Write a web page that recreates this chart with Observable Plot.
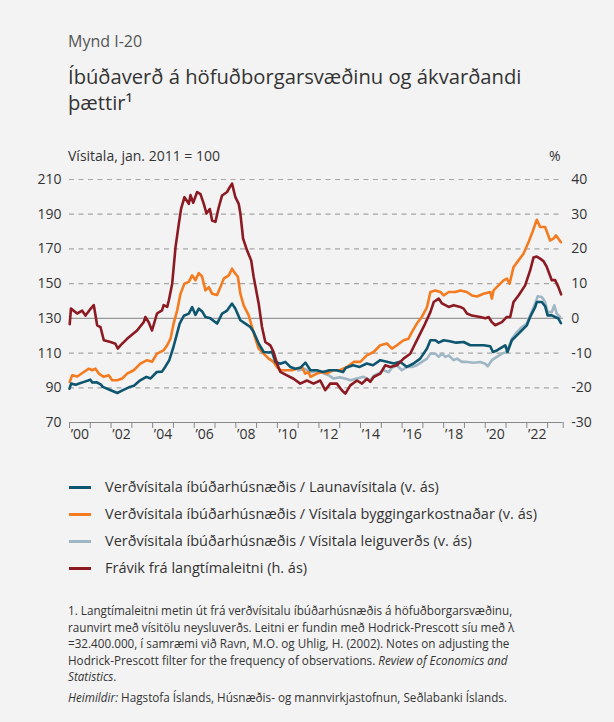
<!DOCTYPE html>
<html>
<head>
<meta charset="utf-8">
<script src="https://cdn.jsdelivr.net/npm/d3@7"></script>
<script src="https://cdn.jsdelivr.net/npm/@observablehq/plot@0.6"></script>
<style>
  body { margin: 0; background: #f3f3f3; }
  #page { position: relative; width: 614px; height: 722px; font-family: "Open Sans", "Noto Sans", sans-serif; color: #333; overflow: hidden; }
  .abs { position: absolute; white-space: nowrap; }
  .leg { position: absolute; left: 69px; font-size: 14.5px; line-height: 20px; white-space: nowrap; }
  .leg span.sw { display: inline-block; width: 22px; height: 3px; vertical-align: middle; margin-right: 14px; position: relative; top: -1px; }
  #foot { position: absolute; left: 68px; top: 602px; font-size: 11.7px; line-height: 16.6px; color: #333; white-space: nowrap; }
</style>
</head>
<body>
<div id="page">
  <div class="abs" style="left:68px;top:30px;font-size:16px;color:#555">Mynd I-20</div>
  <div class="abs" style="left:68px;top:63px;font-size:20.2px;line-height:26px;color:#333">Íbúðaverð á höfuðborgarsvæðinu og ákvarðandi<br>þættir¹</div>
  <div class="abs" style="left:68px;top:146px;font-size:14px">Vísitala, jan. 2011 = 100</div>
  <div class="abs" style="left:549px;top:146px;font-size:14px">%</div>
  <div id="chart" class="abs" style="left:0;top:165px"></div>
  <div id="legend"></div>
  <div id="foot">1. Langtímaleitni metin út frá verðvísitalu íbúðarhúsnæðis á höfuðborgarsvæðinu,<br>raunvirt með vísitölu neysluverðs. Leitni er fundin með Hodrick-Prescott síu með λ<br>=32.400.000, í samræmi við Ravn, M.O. og Uhlig, H. (2002). Notes on adjusting the<br>Hodrick-Prescott filter for the frequency of observations. <i>Review of Economics and</i><br><i>Statistics</i>.<div style="margin-top:4px"><i>Heimildir:</i> Hagstofa Íslands, Húsnæðis- og mannvirkjastofnun, Seðlabanki Íslands.</div></div>
</div>
<script>
// Series labels
const seriesNames = [
  "Verðvísitala íbúðarhúsnæðis / Launavísitala (v. ás)",
  "Verðvísitala íbúðarhúsnæðis / Vísitala byggingarkostnaðar (v. ás)",
  "Verðvísitala íbúðarhúsnæðis / Vísitala leiguverðs (v. ás)",
  "Frávik frá langtímaleitni (h. ás)"
];
const seriesColors = ["#0e5670", "#f47b20", "#9fb7c4", "#8c1a22"];

// Left axis ticks (index) and right axis (%)
const leftTicks = [70, 90, 110, 130, 150, 170, 190, 210];
const xYearTicks = d3.range(2000, 2024);
const xLabelYears = [2000, 2002, 2004, 2006, 2008, 2010, 2012, 2014, 2016, 2018, 2020, 2022];

// [decimal year, index] – house prices / wage index
const wageRatio = [
[2000.00,89.5],[2000.08,92.4],[2000.3,91.8],[2000.5,92.6],[2000.7,93.4],[2000.9,94.2],[2001.0,94.7],[2001.1,93.0],
[2001.3,93.2],[2001.5,92.0],[2001.6,90.5],[2001.9,89.0],[2002.1,88.0],[2002.3,87.0],[2002.5,88.2],[2002.7,89.4],
[2002.9,90.5],[2003.1,91.2],[2003.4,94.3],[2003.7,96.3],[2003.9,95.4],[2004.2,99.1],[2004.45,99.3],[2004.6,102.0],
[2004.8,105.9],[2005.0,113.5],[2005.15,120.2],[2005.3,127.0],[2005.5,131.5],[2005.74,132.7],[2005.9,136.5],[2006.06,132.0],
[2006.22,135.6],[2006.38,134.0],[2006.54,130.8],[2006.78,130.0],[2006.94,128.5],[2007.1,127.0],[2007.34,132.7],[2007.58,134.5],
[2007.82,138.5],[2007.98,135.5],[2008.22,128.9],[2008.46,127.0],[2008.7,125.0],[2008.86,122.1],[2009.1,115.5],[2009.34,110.6],
[2009.58,110.3],[2009.74,110.8],[2009.9,104.9],[2010.14,103.9],[2010.38,104.9],[2010.62,102.0],[2010.86,101.0],[2011.1,101.5],
[2011.35,104.5],[2011.59,100.1],[2011.9,100.1],[2012.2,99.1],[2012.5,100.1],[2012.84,100.1],[2013.16,99.1],[2013.3,101.6],
[2013.64,103.0],[2013.96,102.0],[2014.3,104.0],[2014.6,103.0],[2014.95,105.9],[2015.27,105.0],[2015.6,104.0],[2015.9,105.0],
[2016.23,102.0],[2016.55,104.0],[2016.87,106.8],[2017.2,112.6],[2017.36,117.4],[2017.6,117.4],[2017.76,116.0],[2018.0,117.4],
[2018.3,116.8],[2018.6,116.0],[2018.96,116.4],[2019.28,114.5],[2019.6,114.5],[2019.92,114.5],[2020.24,113.9],[2020.37,110.6],
[2020.56,111.5],[2020.8,113.3],[2020.96,114.5],[2021.07,110.6],[2021.28,117.4],[2021.52,120.2],[2021.76,123.1],[2022.0,126.0],
[2022.16,130.8],[2022.4,136.5],[2022.48,139.4],[2022.72,139.4],[2022.88,137.0],[2023.0,131.7],[2023.2,131.7],[2023.36,130.8],
[2023.52,129.9],[2023.64,127.3]
];

// house prices / building cost index
const buildCostRatio = [
[2000.01,93.4],[2000.13,97.2],[2000.37,96.5],[2000.69,99.1],[2000.93,101.0],[2001.09,100.1],[2001.25,101.0],[2001.41,98.2],
[2001.65,96.3],[2001.89,97.2],[2002.05,94.3],[2002.29,94.3],[2002.53,95.3],[2002.77,98.2],[2003.09,100.1],[2003.41,103.9],
[2003.73,105.9],[2003.97,105.0],[2004.21,109.7],[2004.53,111.6],[2004.7,114.5],[2004.86,118.3],[2005.01,127.0],[2005.18,134.6],
[2005.34,144.2],[2005.53,150.0],[2005.74,151.0],[2005.9,154.8],[2006.06,152.0],[2006.22,156.1],[2006.38,154.0],[2006.54,146.1],
[2006.7,148.0],[2006.86,144.2],[2007.1,143.5],[2007.26,148.0],[2007.42,152.9],[2007.66,154.8],[2007.82,158.6],[2007.93,156.5],
[2008.1,154.0],[2008.22,144.2],[2008.38,137.5],[2008.62,131.7],[2008.78,125.0],[2008.94,118.3],[2009.1,112.6],[2009.34,109.7],
[2009.58,106.8],[2009.82,104.9],[2009.98,102.0],[2010.14,100.1],[2010.46,100.1],[2010.7,100.1],[2010.94,101.0],[2011.18,102.0],
[2011.34,98.2],[2011.5,99.1],[2011.59,96.3],[2011.9,98.2],[2012.2,99.1],[2012.36,98.2],[2012.68,100.1],[2013.0,100.1],
[2013.35,102.0],[2013.67,104.9],[2013.99,104.9],[2014.3,108.7],[2014.63,110.6],[2014.95,114.5],[2015.27,115.5],[2015.51,112.6],
[2015.75,114.5],[2016.07,117.4],[2016.31,118.3],[2016.47,122.1],[2016.71,127.0],[2016.95,130.8],[2017.2,136.5],[2017.36,145.2],
[2017.6,146.1],[2017.84,145.2],[2018.0,143.2],[2018.24,145.2],[2018.56,145.2],[2018.8,146.1],[2019.12,145.2],[2019.36,143.2],
[2019.6,142.6],[2019.92,144.2],[2020.24,145.2],[2020.32,141.4],[2020.4,146.1],[2020.64,149.0],[2020.88,151.9],[2021.04,152.9],
[2021.17,150.0],[2021.36,159.5],[2021.6,163.4],[2021.84,167.2],[2022.08,173.9],[2022.24,178.7],[2022.48,186.8],[2022.64,182.6],
[2022.88,182.6],[2023.12,174.9],[2023.28,175.9],[2023.4,177.8],[2023.52,175.9],[2023.64,173.9]
];

// house prices / rent index
const rentRatio = [
[2011.0,100.0],[2011.3,101.0],[2011.6,99.0],[2011.9,99.5],[2012.2,98.5],[2012.47,97.2],[2012.7,95.3],[2013.0,96.0],
[2013.25,95.3],[2013.51,94.3],[2013.83,95.3],[2014.15,96.3],[2014.47,94.3],[2014.63,97.0],[2014.87,98.2],[2015.1,100.1],
[2015.35,99.0],[2015.51,101.5],[2015.75,103.0],[2015.99,100.1],[2016.23,102.0],[2016.47,102.0],[2016.71,103.0],[2016.95,104.9],
[2017.2,106.8],[2017.36,109.7],[2017.6,109.7],[2017.76,107.8],[2017.92,109.7],[2018.08,107.8],[2018.24,108.7],[2018.48,105.9],
[2018.64,106.8],[2018.88,104.9],[2019.12,104.9],[2019.44,104.4],[2019.76,104.9],[2020.0,103.9],[2020.12,102.4],[2020.32,105.9],
[2020.56,107.8],[2020.8,109.7],[2021.04,110.6],[2021.28,118.3],[2021.52,122.1],[2021.76,124.9],[2022.0,127.0],[2022.16,131.7],
[2022.4,138.5],[2022.52,142.7],[2022.72,142.3],[2022.88,139.4],[2023.0,133.6],[2023.2,133.6],[2023.32,137.5],[2023.44,132.7],
[2023.6,130.8]
];

// deviation from long-term trend, % (right axis)
const trendDeviation = [
[2000.01,-1.7],[2000.07,2.8],[2000.37,1.4],[2000.61,2.2],[2000.77,0.8],[2000.98,2.5],[2001.17,3.8],[2001.33,-2.0],
[2001.49,-2.5],[2001.65,-6.3],[2001.97,-6.8],[2002.21,-7.3],[2002.32,-8.7],[2002.45,-7.8],[2002.77,-5.9],[2003.25,-3.5],
[2003.57,-1.1],[2003.65,0.4],[2003.81,-1.1],[2003.97,-3.5],[2004.21,1.4],[2004.45,2.3],[2004.53,3.8],[2004.7,3.3],
[2004.78,5.2],[2004.94,10.0],[2005.1,20.5],[2005.26,27.3],[2005.37,31.6],[2005.53,34.9],[2005.74,33.0],[2005.82,35.5],
[2005.95,33.3],[2006.14,36.4],[2006.3,35.8],[2006.46,33.0],[2006.59,30.2],[2006.75,31.5],[2006.86,28.2],[2007.02,27.8],
[2007.18,32.0],[2007.34,35.4],[2007.58,36.4],[2007.71,37.8],[2007.82,38.8],[2007.98,34.9],[2008.14,33.0],[2008.22,30.2],
[2008.35,23.0],[2008.54,19.6],[2008.74,16.7],[2008.86,11.9],[2009.1,4.3],[2009.26,-2.5],[2009.42,-6.8],[2009.66,-7.8],
[2009.82,-9.7],[2009.98,-13.0],[2010.14,-15.4],[2010.46,-16.4],[2010.78,-17.4],[2011.1,-18.8],[2011.42,-17.9],[2011.74,-18.8],
[2012.06,-17.9],[2012.3,-20.7],[2012.54,-18.8],[2012.86,-18.8],[2013.1,-20.7],[2013.27,-21.7],[2013.51,-19.3],[2013.83,-17.9],
[2014.07,-18.8],[2014.31,-17.4],[2014.47,-18.3],[2014.63,-16.9],[2014.95,-15.9],[2015.19,-13.5],[2015.43,-14.0],[2015.75,-13.5],
[2016.07,-11.6],[2016.39,-10.2],[2016.63,-7.3],[2016.87,-4.4],[2017.11,-1.5],[2017.36,1.8],[2017.52,4.7],[2017.76,5.7],
[2017.92,4.3],[2018.24,3.3],[2018.48,3.8],[2018.8,3.3],[2018.96,2.8],[2019.12,1.4],[2019.36,0.8],[2019.76,0.4],
[2020.0,0.0],[2020.16,0.4],[2020.32,-1.1],[2020.48,-2.0],[2020.8,-1.1],[2021.04,0.4],[2021.2,0.4],[2021.36,4.7],
[2021.6,6.6],[2021.92,9.5],[2022.16,13.8],[2022.32,17.5],[2022.48,17.8],[2022.64,17.2],[2022.8,16.5],[2022.96,14.8],
[2023.2,11.0],[2023.36,11.0],[2023.52,9.0],[2023.65,6.9]
];

// Right axis: % = (index - 130) / 2
const toLeft = p => 130 + 2 * p;
const toRight = v => (v - 130) / 2;

const lineW = 2.6;
const chart = Plot.plot({
  width: 614,
  height: 282,
  marginLeft: 69,
  marginRight: 51.3,
  marginTop: 14,
  marginBottom: 25,
  style: { background: "transparent", fontFamily: "'Open Sans', sans-serif", fontSize: "14px", color: "#333" },
  x: { domain: [2000, 2023.75], axis: null },
  y: { domain: [70, 210], axis: null },
  marks: [
    Plot.ruleY(leftTicks.filter(v => v !== 70 && v !== 130), { stroke: "#a6a6a6", strokeWidth: 1.2, strokeDasharray: "5,4.5" }),
    Plot.ruleY([130], { stroke: "#999", strokeWidth: 1.3 }),
    Plot.ruleY([70], { stroke: "#888", strokeWidth: 1 }),
    Plot.axisX({ ticks: xYearTicks.concat([2023.75]), tickSize: 6, tickFormat: () => "", stroke: "#888" }),
    Plot.axisY({ anchor: "left", ticks: leftTicks, tickSize: 0, tickPadding: 8, tickFormat: v => String(v), fill: "#333" }),
    Plot.axisY({ anchor: "right", ticks: leftTicks, tickSize: 0, tickPadding: 8, tickFormat: v => String(toRight(v)), fill: "#333" }),
    Plot.axisX({ ticks: xLabelYears.map(y => y + 0.5), tickSize: 0, tickPadding: 7, tickFormat: v => "\u2019" + String(Math.floor(v) % 100).padStart(2, "0"), fill: "#333" }),
    Plot.line(rentRatio, { x: d => d[0], y: d => d[1], stroke: seriesColors[2], strokeWidth: lineW }),
    Plot.line(buildCostRatio, { x: d => d[0], y: d => d[1], stroke: seriesColors[1], strokeWidth: lineW }),
    Plot.line(wageRatio, { x: d => d[0], y: d => d[1], stroke: seriesColors[0], strokeWidth: lineW }),
    Plot.line(trendDeviation, { x: d => d[0], y: d => toLeft(d[1]), stroke: seriesColors[3], strokeWidth: lineW })
  ]
});
document.getElementById("chart").appendChild(chart);

// Legend
const legendTops = [477, 504, 531, 558];
const leg = document.getElementById("legend");
seriesNames.forEach((name, i) => {
  const div = document.createElement("div");
  div.className = "leg";
  div.style.top = legendTops[i] + "px";
  div.innerHTML = `<span class="sw" style="background:${seriesColors[i]}"></span>${name}`;
  leg.appendChild(div);
});
</script>
</body>
</html>
